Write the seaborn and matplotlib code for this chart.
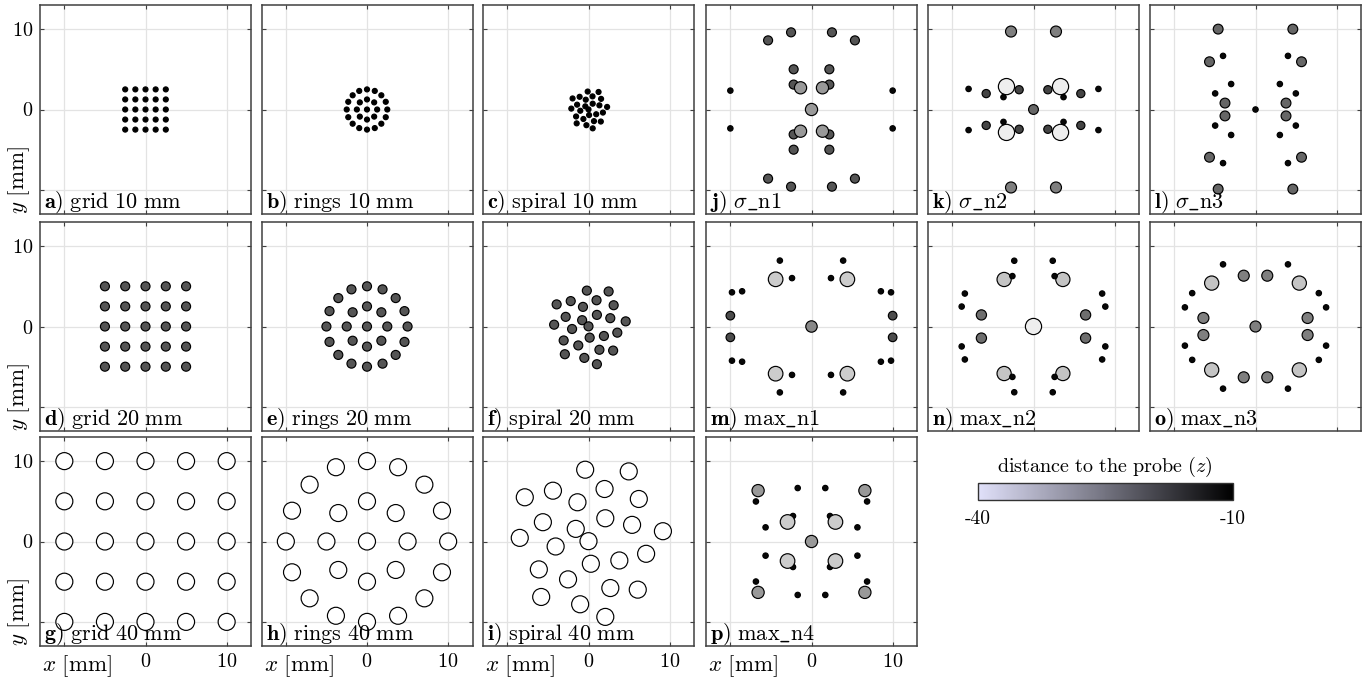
import numpy as np
import pandas as pd
import matplotlib
matplotlib.use("Agg")
import matplotlib.pyplot as plt
from matplotlib.colors import LinearSegmentedColormap, Normalize
from matplotlib.cm import ScalarMappable
import seaborn as sns

plt.rcParams["mathtext.fontset"] = "cm"
plt.rcParams["font.family"] = ["cmr10", "DejaVu Serif"]
plt.rcParams["axes.formatter.use_mathtext"] = True

# ---------------- data (positions in mm, depth z in mm) ----------------
# base layouts as read on the 40 mm panels; 10/20 mm panels are the same layout at 1/4 and 1/2 scale
grid40_x = [-10, -5, 0, 5, 10, -10, -5, 0, 5, 10, -10, -5, 0, 5, 10, -10, -5, 0, 5, 10, -10, -5, 0, 5, 10]
grid40_y = [10, 10, 10, 10, 10, 5, 5, 5, 5, 5, 0, 0, 0, 0, 0, -5, -5, -5, -5, -5, -10, -10, -10, -10, -10]

rings40_x = [0, 0, 3.54, 5, 3.54, 0, -3.54, -5, -3.54,
             0, 3.83, 7.07, 9.24, 10, 9.24, 7.07, 3.83, 0, -3.83, -7.07, -9.24, -10, -9.24, -7.07, -3.83]
rings40_y = [0, 5, 3.54, 0, -3.54, -5, -3.54, 0, 3.54,
             10, 9.24, 7.07, 3.83, 0, -3.83, -7.07, -9.24, -10, -9.24, -7.07, -3.83, 0, 3.83, 7.07, 9.24]

spiral40_x = [-0.41, 4.96, -7.85, -4.38, -1.36, 1.98, 6.2, -5.62, -1.57, 2.07, 5.37, 9.17, -8.47,
              -4.05, 0.0, 7.1, 3.8, 0.29, -6.12, -2.52, 2.69, 6.07, -5.83, -1.03, 2.07]
spiral40_y = [8.93, 8.72, 5.5, 6.32, 4.88, 6.53, 5.29, 2.4, 1.57, 2.89, 2.07, 1.28, 0.45,
              -0.62, 0.04, -1.53, -2.36, -2.77, -3.47, -4.71, -5.79, -5.99, -6.9, -7.81, -9.38]

depths = [-10, -20, -40]
scales = [0.25, 0.5, 1.0]

x_j = [-10, 10, -10, 10,
       -5.35, -2.52, 2.52, 5.35, -2.2, 2.2, -2.2, 2.2, -2.2, 2.2, -2.2, 2.2, -5.35, -2.52, 2.52, 5.35,
       0, -1.35, 1.35, -1.35, 1.35]
y_j = [2.35, 2.35, -2.35, -2.35,
       8.6, 9.6, 9.6, 8.6, 5.0, 5.0, 3.1, 3.1, -3.1, -3.1, -5.0, -5.0, -8.6, -9.6, -9.6, -8.6,
       0, 2.7, 2.7, -2.7, -2.7]
z_j = [-11] * 4 + [-20] * 16 + [-28] * 5

x_k = [-3.33, 3.33, -3.33, 3.33, -2.77, 2.77, -2.77, 2.77, 0,
       -5.83, 5.83, -5.83, 5.83, -1.77, 1.77, -1.77, 1.77,
       -8.0, 8.0, -8.0, 8.0, -3.7, 3.7, -3.7, 3.7]
y_k = [2.85, 2.85, -2.85, -2.85, 9.7, 9.7, -9.7, -9.7, 0,
       1.98, 1.98, -1.98, -1.98, 2.46, 2.46, -2.46, -2.46,
       2.56, 2.56, -2.56, -2.56, 1.54, 1.54, -1.54, -1.54]
z_k = [-38] * 4 + [-25] * 4 + [-22] + [-18] * 8 + [-11] * 8

x_l = [-4.6, 4.6, -5.67, 5.67, -3.76, 3.76, -3.76, 3.76, -5.67, 5.67, -4.6, 4.6,
       -4.0, 4.0, -3.0, 3.0, -4.97, 4.97, 0, -4.97, 4.97, -3.0, 3.0, -4.0, 4.0]
y_l = [10.0, 10.0, 5.94, 5.94, 0.8, 0.8, -0.8, -0.8, -5.94, -5.94, -9.9, -9.9,
       6.67, 6.67, 3.17, 3.17, 2.0, 2.0, 0, -2.0, -2.0, -3.17, -3.17, -6.67, -6.67]
z_l = [-22] * 12 + [-11] * 13

x_m = [-4.42, 4.42, -4.42, 4.42, 0, -10, 10, -10, 10,
       -3.9, 3.9, -2.4, 2.4, -9.8, -8.55, 8.55, 9.8, -9.8, -8.55, 8.55, 9.8, -2.4, 2.4, -3.9, 3.9]
y_m = [5.87, 5.87, -5.87, -5.87, 0, 1.35, 1.35, -1.35, -1.35,
       8.2, 8.2, 6.02, 6.02, 4.25, 4.38, 4.38, 4.25, -4.25, -4.38, -4.38, -4.25, -6.02, -6.02, -8.2, -8.2]
z_m = [-34] * 4 + [-26] + [-19] * 4 + [-11] * 16

x_n = [0, -3.62, 3.62, -3.62, 3.62, -6.42, 6.42, -6.42, 6.42,
       -2.37, 2.37, -2.6, 2.6, -8.46, 8.46, -8.85, 8.85, -8.85, 8.85, -8.46, 8.46, -2.6, 2.6, -2.37, 2.37]
y_n = [0, 5.85, 5.85, -5.85, -5.85, 1.44, 1.44, -1.44, -1.44,
       8.18, 8.18, 6.27, 6.27, 4.1, 4.1, 2.48, 2.48, -2.48, -2.48, -4.1, -4.1, -6.27, -6.27, -8.18, -8.18]
z_n = [-38] + [-33] * 4 + [-23] * 4 + [-11] * 16

x_o = [-5.4, 5.4, -5.4, 5.4, -1.45, 1.45, -1.45, 1.45, -6.42, 6.42, -6.42, 6.42, 0,
       -4.0, 4.0, -7.8, 7.8, -8.7, 8.7, -8.7, 8.7, -7.8, 7.8, -4.0, 4.0]
y_o = [5.4, 5.4, -5.4, -5.4, 6.32, 6.32, -6.32, -6.32, 1.06, 1.06, -1.06, -1.06, 0,
       7.73, 7.73, 4.15, 4.15, 2.38, 2.38, -2.38, -2.38, -4.15, -4.15, -7.73, -7.73]
z_o = [-33] * 4 + [-25] * 9 + [-11] * 12

x_p = [-6.85, 6.85, -6.85, 6.85, -1.7, 1.7, -1.7, 1.7, -5.66, 5.66, -5.66, 5.66, -2.28, 2.28, -2.28, 2.28,
       -6.58, 6.58, -6.58, 6.58, 0, -2.95, 2.95, -2.95, 2.95]
y_p = [4.98, 4.98, -4.98, -4.98, 6.65, 6.65, -6.65, -6.65, 1.76, 1.76, -1.76, -1.76, 3.17, 3.17, -3.17, -3.17,
       6.33, 6.33, -6.33, -6.33, 0, 2.43, 2.43, -2.43, -2.43]
z_p = [-11] * 16 + [-28] * 5 + [-34] * 4

layout_names = ["grid", "rings", "spiral"]
tick_values = [-10, 0, 10]
tick_labels = ["", "0", "10"]
cbar_ticks = [-40, -10]
cbar_ticklabels = ["-40", "-10"]

# ---------------- styling ----------------
W, H = 1369, 684
fig = plt.figure(figsize=(W / 100, H / 100), dpi=100)
col_left = [40, 261.5, 483, 706, 928, 1150]
row_top = [5, 222, 437]
aw, ah = 211, 209

marker_cmap = LinearSegmentedColormap.from_list("mk", ["#ffffff", "#000000"])
bar_cmap = LinearSegmentedColormap.from_list("bar", [(0.88, 0.88, 0.98), (0.45, 0.45, 0.5), (0, 0, 0)])


def size_of(z):
    d_px = 2 + 0.4 * abs(z) - 1.0
    return (d_px * 0.72) ** 2


def make_ax(r, c):
    left = col_left[c] / W
    bottom = 1 - (row_top[r] + ah) / H
    ax = fig.add_axes([left, bottom, aw / W, ah / H])
    ax.set_xlim(-13, 13)
    ax.set_ylim(-13, 13)
    ax.set_xticks(tick_values)
    ax.set_yticks(tick_values)
    ax.set_xticklabels([])
    ax.set_yticklabels([])
    ax.grid(True, color="#e3e3e3", lw=0.9)
    ax.set_axisbelow(True)
    ax.tick_params(direction="in", top=True, right=True, length=3, width=0.8,
                   color="#404040", labelsize=14.5, pad=5)
    for s in ax.spines.values():
        s.set_color("#404040")
        s.set_linewidth(1.1)
    return ax


def draw(ax, x, y, z):
    df = pd.DataFrame({"x": x, "y": y, "z": z})
    levels = sorted(set(z))
    sizes = {v: size_of(v) for v in levels}
    sns.scatterplot(data=df, x="x", y="y", hue="z", size="z", palette=marker_cmap,
                    hue_norm=(-40, -10), sizes=sizes, edgecolor="black", linewidth=0.85,
                    legend=False, ax=ax, zorder=3)
    ax.set_xlabel("")
    ax.set_ylabel("")


def label(ax, letter, text):
    ax.text(0.02, 0.03, r"$\mathbf{%s})\ %s$" % (letter, text), transform=ax.transAxes,
            ha="left", va="baseline", fontsize=16, zorder=5)


axes = {}
letters_left = [["a", "b", "c"], ["d", "e", "f"], ["g", "h", "i"]]
bases = [(grid40_x, grid40_y), (rings40_x, rings40_y), (spiral40_x, spiral40_y)]
for r in range(3):
    for c in range(3):
        ax = make_ax(r, c)
        bx, by = bases[c]
        sc = scales[r]
        xs = [v * sc for v in bx]
        ys = [v * sc for v in by]
        zs = [depths[r]] * len(xs)
        draw(ax, xs, ys, zs)
        label(ax, letters_left[r][c], r"\mathrm{%s\ %d\ mm}" % (layout_names[c], -depths[r]))
        axes[(r, c)] = ax

right_panels = [
    (0, 3, "j", r"\sigma\mathrm{\_n1}", x_j, y_j, z_j),
    (0, 4, "k", r"\sigma\mathrm{\_n2}", x_k, y_k, z_k),
    (0, 5, "l", r"\sigma\mathrm{\_n3}", x_l, y_l, z_l),
    (1, 3, "m", r"\mathrm{max\_n1}", x_m, y_m, z_m),
    (1, 4, "n", r"\mathrm{max\_n2}", x_n, y_n, z_n),
    (1, 5, "o", r"\mathrm{max\_n3}", x_o, y_o, z_o),
    (2, 3, "p", r"\mathrm{max\_n4}", x_p, y_p, z_p),
]
for r, c, letter, txt, xx, yy, zz in right_panels:
    ax = make_ax(r, c)
    draw(ax, xx, yy, zz)
    label(ax, letter, txt)
    axes[(r, c)] = ax

# tick labels on outer panels
for (r, c), ax in axes.items():
    if c == 0:
        ax.set_yticklabels([("$%s$" % t if t else "") for t in tick_labels])
        ax.text(-0.098, 0.0, r"$y\ [\mathrm{mm}]$", transform=ax.transAxes, rotation=90,
                ha="center", va="bottom", fontsize=16.5)
    if r == 2:
        ax.set_xticklabels([("$%s$" % t if t else "") for t in tick_labels])
        ax.text(0.01, -0.035, r"$x\ [\mathrm{mm}]$", transform=ax.transAxes,
                ha="left", va="top", fontsize=16.5)

# colorbar
cax = fig.add_axes([978 / W, 1 - 500 / H, 255 / W, 17 / H])
sm = ScalarMappable(norm=Normalize(-40, -10), cmap=bar_cmap)
cb = fig.colorbar(sm, cax=cax, orientation="horizontal")
cb.set_ticks(cbar_ticks)
cb.set_ticklabels(cbar_ticklabels)
cax.tick_params(length=0, pad=7, labelsize=14)
for t in cax.get_xticklabels():
    t.set_fontfamily(["cmr10", "DejaVu Serif"])
cb.outline.set_edgecolor("#333333")
cb.outline.set_linewidth(1.0)
fig.text(1105 / W, 1 - 467 / H, r"$\mathrm{distance\ to\ the\ probe}\ (z)$",
         ha="center", va="center", fontsize=14.5)

fig.savefig("out.png", dpi=100)
